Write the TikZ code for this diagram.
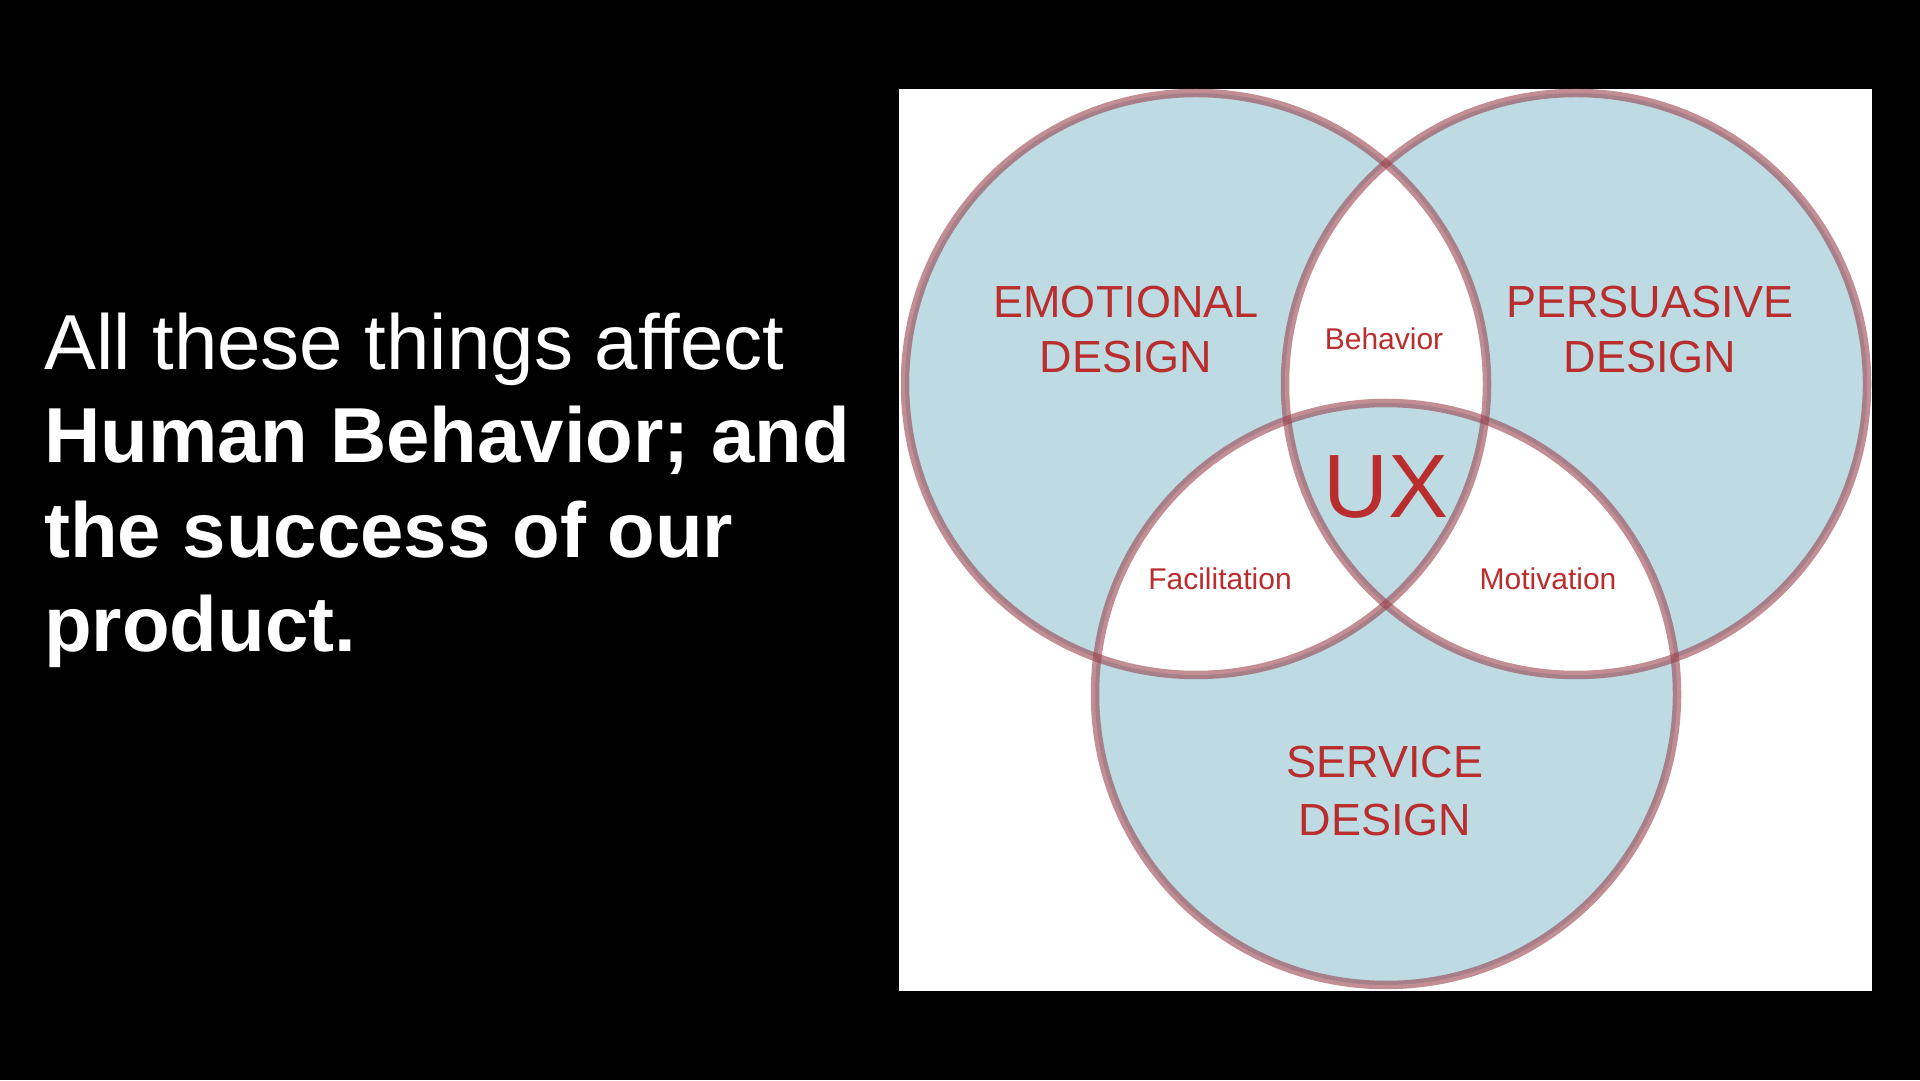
\documentclass[tikz,border=0pt]{standalone}
\usepackage{fontspec}
\setmainfont{Liberation Sans}
\usetikzlibrary{positioning}

\definecolor{vennBlue}{RGB}{190,218,227}
\definecolor{ringRose}{RGB}{150,62,72}
\definecolor{labelRed}{RGB}{186,45,45}

\begin{document}
\begin{tikzpicture}[x=1pt,y=1pt,
    ring/.style={draw=ringRose, draw opacity=0.58, line width=8.5pt},
    setLbl/.style={text=labelRed, inner sep=0pt, anchor=base, font=\fontsize{45}{54}\selectfont},
    pairLbl/.style={setLbl, font=\fontsize{30}{36}\selectfont},
    slideTxt/.style={text=white, inner sep=0pt, anchor=base west, font=\fontsize{78}{94}\selectfont}]
  \fill[black] (0,0) rectangle (1920,1080);
  \useasboundingbox (0,0) rectangle (1920,1080);

  % slide text
  \node[slideTxt] (Line1) at (44,710) {All these things affect};
  \node[slideTxt, font=\fontsize{78}{94}\selectfont\bfseries] (Line2) at ([yshift=-93pt]Line1.base west) {Human Behavior; and};
  \node[slideTxt, font=\fontsize{78}{94}\selectfont\bfseries] (Line3) at ([yshift=-95pt]Line2.base west) {the success of our};
  \node[slideTxt, font=\fontsize{78}{94}\selectfont\bfseries] (Line4) at ([yshift=-94pt]Line3.base west) {product.};

  % venn panel
  \fill[white] (899,89) rectangle (1872,991);
  \coordinate (Emo) at (1196,696);
  \coordinate (Per) at (1576,696);
  \coordinate (Ser) at (1386,386);
  \fill[vennBlue, even odd rule] (Emo) circle[radius=291pt] (Per) circle[radius=291pt] (Ser) circle[radius=291pt];
  \draw[ring] (Emo) circle[radius=291pt];
  \draw[ring] (Per) circle[radius=291pt];
  \draw[ring] (Ser) circle[radius=291pt];

  \node[setLbl] (EmoA) at (1126,762) {EMOTIONAL};
  \node[setLbl] (EmoB) at ([yshift=-55pt]EmoA.base) {DESIGN};
  \node[setLbl] (PerA) at (1650,762) {PERSUASIVE};
  \node[setLbl] (PerB) at ([yshift=-55pt]PerA.base) {DESIGN};
  \node[setLbl] (SerA) at (1385,302) {SERVICE};
  \node[setLbl] (SerB) at ([yshift=-57pt]SerA.base) {DESIGN};

  \node[pairLbl] (Beh) at (1384,730) {Behavior};
  \node[pairLbl] (Fac) at (1220,490) {Facilitation};
  \node[pairLbl] (Mot) at (1548,490) {Motivation};
  \node[setLbl, font=\fontsize{90}{100}\selectfont] (UX) at (1386,562) {UX};
\end{tikzpicture}
\end{document}
